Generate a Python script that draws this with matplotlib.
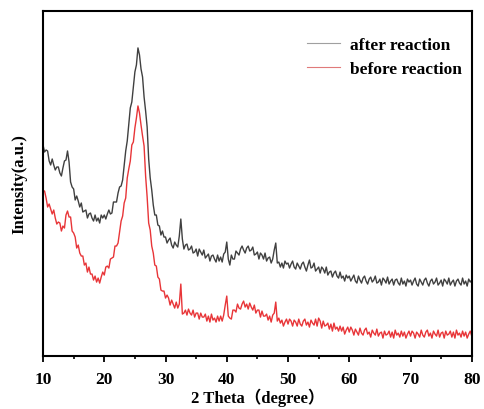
import matplotlib
matplotlib.use("Agg")
import matplotlib.pyplot as plt
from matplotlib.ticker import MultipleLocator

two_theta = [
    10.0, 10.25, 10.5, 10.75, 11.0, 11.25, 11.5, 11.75,
    12.0, 12.25, 12.5, 12.75, 13.0, 13.25, 13.5, 13.75,
    14.0, 14.25, 14.5, 14.75, 15.0, 15.25, 15.5, 15.75,
    16.0, 16.25, 16.5, 16.75, 17.0, 17.25, 17.5, 17.75,
    18.0, 18.25, 18.5, 18.75, 19.0, 19.25, 19.5, 19.75,
    20.0, 20.25, 20.5, 20.75, 21.0, 21.25, 21.5, 21.75,
    22.0, 22.25, 22.5, 22.75, 23.0, 23.25, 23.5, 23.75,
    24.0, 24.25, 24.5, 24.75, 25.0, 25.25, 25.5, 25.75,
    26.0, 26.25, 26.5, 26.75, 27.0, 27.25, 27.5, 27.75,
    28.0, 28.25, 28.5, 28.75, 29.0, 29.25, 29.5, 29.75,
    30.0, 30.25, 30.5, 30.75, 31.0, 31.25, 31.5, 31.75,
    32.0, 32.25, 32.5, 32.75, 33.0, 33.25, 33.5, 33.75,
    34.0, 34.25, 34.5, 34.75, 35.0, 35.25, 35.5, 35.75,
    36.0, 36.25, 36.5, 36.75, 37.0, 37.25, 37.5, 37.75,
    38.0, 38.25, 38.5, 38.75, 39.0, 39.25, 39.5, 39.75,
    40.0, 40.25, 40.5, 40.75, 41.0, 41.25, 41.5, 41.75,
    42.0, 42.25, 42.5, 42.75, 43.0, 43.25, 43.5, 43.75,
    44.0, 44.25, 44.5, 44.75, 45.0, 45.25, 45.5, 45.75,
    46.0, 46.25, 46.5, 46.75, 47.0, 47.25, 47.5, 47.75,
    48.0, 48.25, 48.5, 48.75, 49.0, 49.25, 49.5, 49.75,
    50.0, 50.25, 50.5, 50.75, 51.0, 51.25, 51.5, 51.75,
    52.0, 52.25, 52.5, 52.75, 53.0, 53.25, 53.5, 53.75,
    54.0, 54.25, 54.5, 54.75, 55.0, 55.25, 55.5, 55.75,
    56.0, 56.25, 56.5, 56.75, 57.0, 57.25, 57.5, 57.75,
    58.0, 58.25, 58.5, 58.75, 59.0, 59.25, 59.5, 59.75,
    60.0, 60.25, 60.5, 60.75, 61.0, 61.25, 61.5, 61.75,
    62.0, 62.25, 62.5, 62.75, 63.0, 63.25, 63.5, 63.75,
    64.0, 64.25, 64.5, 64.75, 65.0, 65.25, 65.5, 65.75,
    66.0, 66.25, 66.5, 66.75, 67.0, 67.25, 67.5, 67.75,
    68.0, 68.25, 68.5, 68.75, 69.0, 69.25, 69.5, 69.75,
    70.0, 70.25, 70.5, 70.75, 71.0, 71.25, 71.5, 71.75,
    72.0, 72.25, 72.5, 72.75, 73.0, 73.25, 73.5, 73.75,
    74.0, 74.25, 74.5, 74.75, 75.0, 75.25, 75.5, 75.75,
    76.0, 76.25, 76.5, 76.75, 77.0, 77.25, 77.5, 77.75,
    78.0, 78.25, 78.5, 78.75, 79.0, 79.25, 79.5, 79.75,
    80.0]

after_reaction = [
    211, 204, 206, 205, 195, 191, 197, 191,
    186, 189, 189, 183, 180, 188, 195, 196,
    205, 194, 174, 169, 167, 156, 160, 155,
    149, 153, 144, 145, 146, 138, 142, 143,
    138, 135, 141, 135, 138, 133, 141, 138,
    141, 137, 142, 146, 142, 143, 154, 154,
    154, 163, 169, 170, 176, 191, 205, 215,
    232, 248, 254, 269, 284, 291, 308, 301,
    287, 279, 259, 245, 229, 197, 178, 166,
    151, 141, 141, 131, 130, 121, 125, 119,
    119, 113, 116, 118, 111, 108, 114, 111,
    109, 120, 137, 117, 107, 111, 112, 106,
    107, 110, 103, 104, 107, 100, 107, 104,
    101, 106, 98, 100, 102, 95, 100, 101,
    97, 94, 101, 95, 99, 94, 102, 104,
    114, 97, 91, 101, 97, 97, 105, 103,
    101, 107, 110, 106, 103, 108, 110, 105,
    106, 109, 101, 102, 104, 97, 103, 101,
    97, 103, 95, 98, 99, 93, 97, 106,
    113, 93, 94, 89, 93, 88, 95, 92,
    93, 88, 92, 95, 89, 87, 93, 90,
    87, 92, 94, 89, 85, 91, 96, 88,
    89, 93, 85, 87, 89, 83, 89, 87,
    83, 89, 81, 84, 85, 79, 83, 85,
    80, 78, 84, 78, 80, 75, 81, 78,
    80, 75, 78, 81, 75, 73, 80, 76,
    73, 78, 80, 75, 72, 77, 79, 74,
    76, 80, 73, 74, 77, 71, 78, 76,
    73, 79, 72, 75, 77, 71, 76, 77,
    73, 71, 78, 72, 75, 70, 77, 74,
    76, 71, 75, 78, 72, 70, 77, 74,
    71, 76, 78, 73, 70, 75, 77, 72,
    74, 78, 71, 73, 76, 70, 77, 75,
    72, 78, 71, 74, 76, 70, 75, 77,
    73, 71, 78, 72, 75, 70, 77, 74,
    76]

before_reaction = [
    165, 165, 158, 149, 152, 147, 142, 146,
    138, 132, 134, 133, 125, 130, 128, 141,
    145, 139, 139, 125, 123, 119, 108, 111,
    103, 100, 100, 91, 93, 84, 89, 82,
    82, 76, 80, 74, 78, 73, 79, 84,
    81, 89, 90, 88, 97, 98, 99, 110,
    110, 113, 124, 135, 140, 153, 158, 178,
    187, 195, 211, 214, 228, 238, 250, 243,
    231, 220, 210, 180, 159, 133, 126, 110,
    103, 91, 90, 79, 77, 66, 65, 65,
    58, 61, 58, 51, 56, 52, 48, 54,
    48, 52, 72, 42, 43, 46, 41, 47,
    43, 41, 46, 39, 43, 43, 37, 43,
    39, 39, 42, 35, 40, 34, 42, 36,
    38, 34, 40, 35, 40, 35, 41, 51,
    60, 40, 38, 37, 46, 46, 44, 52,
    48, 47, 52, 55, 49, 52, 47, 53,
    49, 46, 51, 43, 46, 46, 39, 45,
    40, 40, 42, 36, 40, 34, 41, 43,
    54, 35, 38, 33, 36, 30, 34, 37,
    32, 37, 35, 30, 36, 34, 30, 37,
    32, 30, 35, 37, 31, 34, 29, 36,
    33, 31, 37, 30, 38, 35, 28, 35,
    30, 31, 33, 27, 32, 25, 33, 27,
    29, 25, 30, 25, 29, 22, 26, 29,
    24, 29, 26, 21, 27, 24, 21, 28,
    23, 21, 26, 28, 22, 24, 19, 26,
    23, 21, 27, 20, 23, 24, 18, 25,
    21, 22, 25, 19, 24, 18, 26, 21,
    23, 19, 25, 20, 24, 18, 22, 25,
    20, 25, 23, 18, 24, 22, 19, 26,
    21, 19, 24, 26, 20, 23, 18, 25,
    22, 20, 26, 19, 23, 24, 18, 25,
    21, 22, 25, 19, 24, 18, 26, 21,
    23, 19, 25, 20, 24, 18, 22, 25,
    20]

series_labels = ["after reaction", "before reaction"]
x_ticks = [10, 20, 30, 40, 50, 60, 70, 80]

serif = ["Liberation Serif", "Noto Sans CJK SC", "DejaVu Serif"]
plt.rcParams["font.family"] = serif

fig = plt.figure(figsize=(4.85, 4.10), dpi=100)
ax = fig.add_axes([0.0887, 0.129, 0.884, 0.842])

ax.plot(two_theta, after_reaction, color="#404040", lw=1.0, label=series_labels[0])
ax.plot(two_theta, before_reaction, color="#e83538", lw=1.0, label=series_labels[1])

ax.set_xlim(10, 80)
ax.set_ylim(0, 345)
ax.set_xticks(x_ticks)
ax.set_xticklabels([str(t) for t in x_ticks], fontweight="bold", fontsize=12.5)
ax.xaxis.set_minor_locator(MultipleLocator(5))
ax.tick_params(axis="x", which="major", direction="out", length=4, width=1.3, pad=6.5)
ax.tick_params(axis="x", which="minor", direction="out", length=2.5, width=1.2)
ax.set_yticks([])
for s in ax.spines.values():
    s.set_linewidth(1.5)

ax.set_xlabel("2 Theta（degree）", fontweight="bold", fontsize=12, labelpad=1)
ax.set_ylabel("Intensity(a.u.)", fontweight="bold", fontsize=12, labelpad=11)

leg = ax.legend(loc="upper left", bbox_to_anchor=(307 / 485, 1 - 38 / 410),
                bbox_transform=fig.transFigure, frameon=False, borderpad=0,
                borderaxespad=0,
                prop={"weight": "bold", "size": 12.5, "family": serif},
                handlelength=1.9, handletextpad=0.55, labelspacing=0.44)
leg.get_lines()[0].set_color("#a0a0a0")
leg.get_lines()[1].set_color("#e07a7a")
for l in leg.get_lines():
    l.set_linewidth(0.8)

fig.savefig("out.png", dpi=100)
